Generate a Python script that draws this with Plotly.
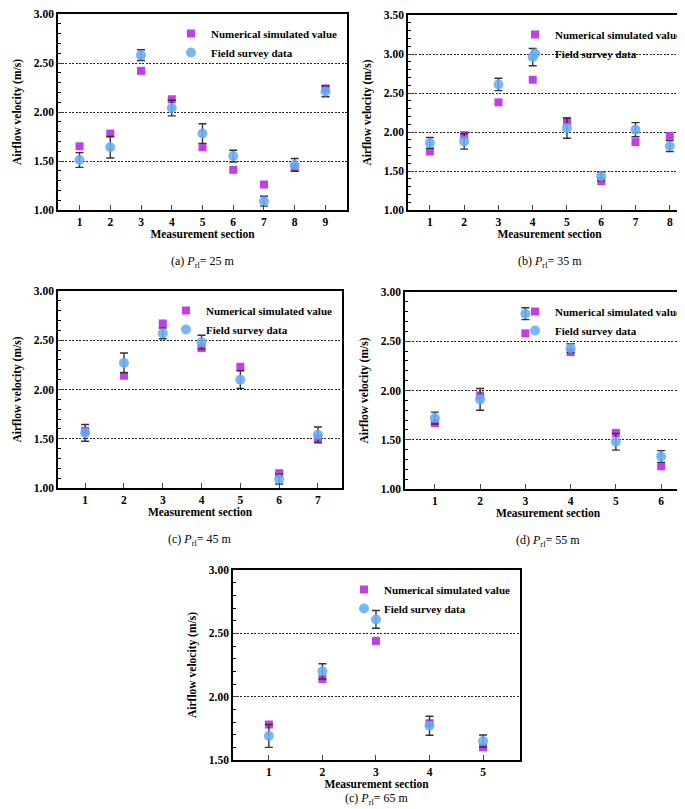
import plotly.graph_objects as go

# ---------------- data ----------------
sec_a = [1, 2, 3, 4, 5, 6, 7, 8, 9]
sim_a = [1.65, 1.78, 2.42, 2.13, 1.64, 1.41, 1.26, 1.43, 2.24]
fld_a = [1.51, 1.64, 2.58, 2.04, 1.78, 1.55, 1.09, 1.46, 2.21]
err_a = [0.075, 0.11, 0.055, 0.08, 0.10, 0.06, 0.05, 0.065, 0.055]

sec_b = [1, 2, 3, 4, 5, 6, 7, 8]
sim_b = [1.75, 1.96, 2.38, 2.67, 2.14, 1.37, 1.87, 1.95]
fld_b = [1.86, 1.88, 2.61, 2.96, 2.05, 1.43, 2.03, 1.82]
err_b = [0.07, 0.10, 0.08, 0.11, 0.13, 0.055, 0.09, 0.07]

sec_c = [1, 2, 3, 4, 5, 6, 7]
sim_c = [1.58, 2.14, 2.67, 2.42, 2.23, 1.15, 1.50]
fld_c = [1.56, 2.27, 2.57, 2.48, 2.10, 1.09, 1.54]
err_c = [0.085, 0.10, 0.055, 0.07, 0.09, 0.05, 0.08]

sec_d = [1, 2, 3, 4, 5, 6]
sim_d = [1.67, 1.95, 2.58, 2.39, 1.57, 1.23]
fld_d = [1.72, 1.91, 2.78, 2.43, 1.48, 1.33]
err_d = [0.06, 0.11, 0.06, 0.045, 0.085, 0.06]

sec_e = [1, 2, 3, 4, 5]
sim_e = [1.78, 2.14, 2.44, 1.79, 1.60]
fld_e = [1.69, 2.20, 2.61, 1.77, 1.65]
err_e = [0.09, 0.06, 0.07, 0.075, 0.047]

caption_letters = ["(a)", "(b)", "(c)", "(d)", "(c)"]
p_values = [25, 35, 45, 55, 65]

SIM_NAME = "Numerical simulated value"
FLD_NAME = "Field survey data"
X_TITLE = "Measurement section"
Y_TITLE = "Airflow velocity (m/s)"

# ---------------- layout geometry ----------------
W, H = 685, 809
FONT = "Liberation Serif"
SQ_COLOR = "#c23ee6"
CI_COLOR = "rgba(100,172,246,0.88)"
FS = 11.5

panels = [
    dict(x=sec_a, s=sim_a, f=fld_a, e=err_a, box=(50, 339, 6, 202), xr=[0.3, 9.7], yr=[1.0, 3.0]),
    dict(x=sec_b, s=sim_b, f=fld_b, e=err_b, box=(400, 683, 7, 202), xr=[0.36, 8.62], yr=[1.0, 3.5]),
    dict(x=sec_c, s=sim_c, f=fld_c, e=err_c, box=(50, 334, 283, 480), xr=[0.3, 7.62], yr=[1.0, 3.0]),
    dict(x=sec_d, s=sim_d, f=fld_d, e=err_d, box=(397, 683, 284, 481), xr=[0.34, 6.66], yr=[1.0, 3.0]),
    dict(x=sec_e, s=sim_e, f=fld_e, e=err_e, box=(225, 512, 562, 752), xr=[0.33, 5.69], yr=[1.5, 3.0]),
]

fig = go.Figure()
layout = dict(
    width=W, height=H,
    margin=dict(l=0, r=0, t=0, b=0, autoexpand=False),
    paper_bgcolor="white", plot_bgcolor="white",
    font=dict(family=FONT, size=FS, color="black"),
    showlegend=True,
)
annotations = []

for i, p in enumerate(panels):
    n = i + 1
    xa = "x" if n == 1 else f"x{n}"
    ya = "y" if n == 1 else f"y{n}"
    lg = "legend" if n == 1 else f"legend{n}"
    x0, x1, yt, yb = p["box"]

    fig.add_trace(go.Scatter(
        x=p["x"], y=p["s"], mode="markers", name=SIM_NAME,
        marker=dict(symbol="square", size=8, color=SQ_COLOR),
        xaxis=xa, yaxis=ya, legend=lg,
    ))
    fig.add_trace(go.Scatter(
        x=p["x"], y=p["f"], mode="markers", name=FLD_NAME,
        marker=dict(symbol="circle", size=10, color=CI_COLOR),
        error_y=dict(type="data", array=p["e"], visible=True,
                     color="#333333", thickness=1.4, width=4),
        xaxis=xa, yaxis=ya, legend=lg,
    ))

    key_x = "xaxis" if n == 1 else f"xaxis{n}"
    key_y = "yaxis" if n == 1 else f"yaxis{n}"
    layout[key_x] = dict(
        domain=[x0 / W, x1 / W], anchor=ya, range=p["xr"],
        dtick=1, tick0=1, ticks="inside", ticklen=5, tickwidth=1.3,
        showline=True, linecolor="black", linewidth=1.5, mirror=True,
        showgrid=False, zeroline=False, ticklabeloverflow="allow",
        tickfont=dict(family=FONT, size=FS, color="black", weight="bold"),
        title=dict(text=X_TITLE, standoff=(0 if n == 5 else 3),
                   font=dict(family=FONT, size=FS, color="black", weight="bold")),
    )
    layout[key_y] = dict(
        domain=[1 - yb / H, 1 - yt / H], anchor=xa, range=p["yr"],
        dtick=0.5, tick0=1.0, tickformat=".2f",
        ticks="inside", ticklen=5, tickwidth=1.3,
        minor=dict(dtick=0.1, ticks="inside", ticklen=3, tickwidth=1, tickcolor="black", showgrid=False),
        showline=True, linecolor="black", linewidth=1.5, mirror=True,
        showgrid=True, gridcolor="#222222", gridwidth=0.8, griddash="2px,1.5px",
        zeroline=False, ticklabeloverflow="allow",
        tickfont=dict(family=FONT, size=FS, color="black", weight="bold"),
        title=dict(text=Y_TITLE, standoff=10,
                   font=dict(family=FONT, size=FS, color="black", weight="bold")),
    )
    layout[lg] = dict(
        x=(x1 - 5) / W, xanchor="right", y=1 - (yt + 5) / H, yanchor="top",
        bgcolor="rgba(0,0,0,0)", borderwidth=0,
        font=dict(family=FONT, size=11, color="black", weight="bold"),
        tracegroupgap=0, itemwidth=30,
    )
    cap_y = 791 if n == 5 else yb + 52
    annotations.append(dict(
        text=f"{caption_letters[i]} <i>P</i><sub>rl</sub>= {p_values[i]} m",
        x=(x0 + x1) / 2 / W, y=1 - cap_y / H, xref="paper", yref="paper",
        xanchor="center", yanchor="middle", showarrow=False,
        font=dict(family=FONT, size=12, color="black"),
    ))

layout["annotations"] = annotations
fig.update_layout(**layout)
fig.write_html("out.html")
